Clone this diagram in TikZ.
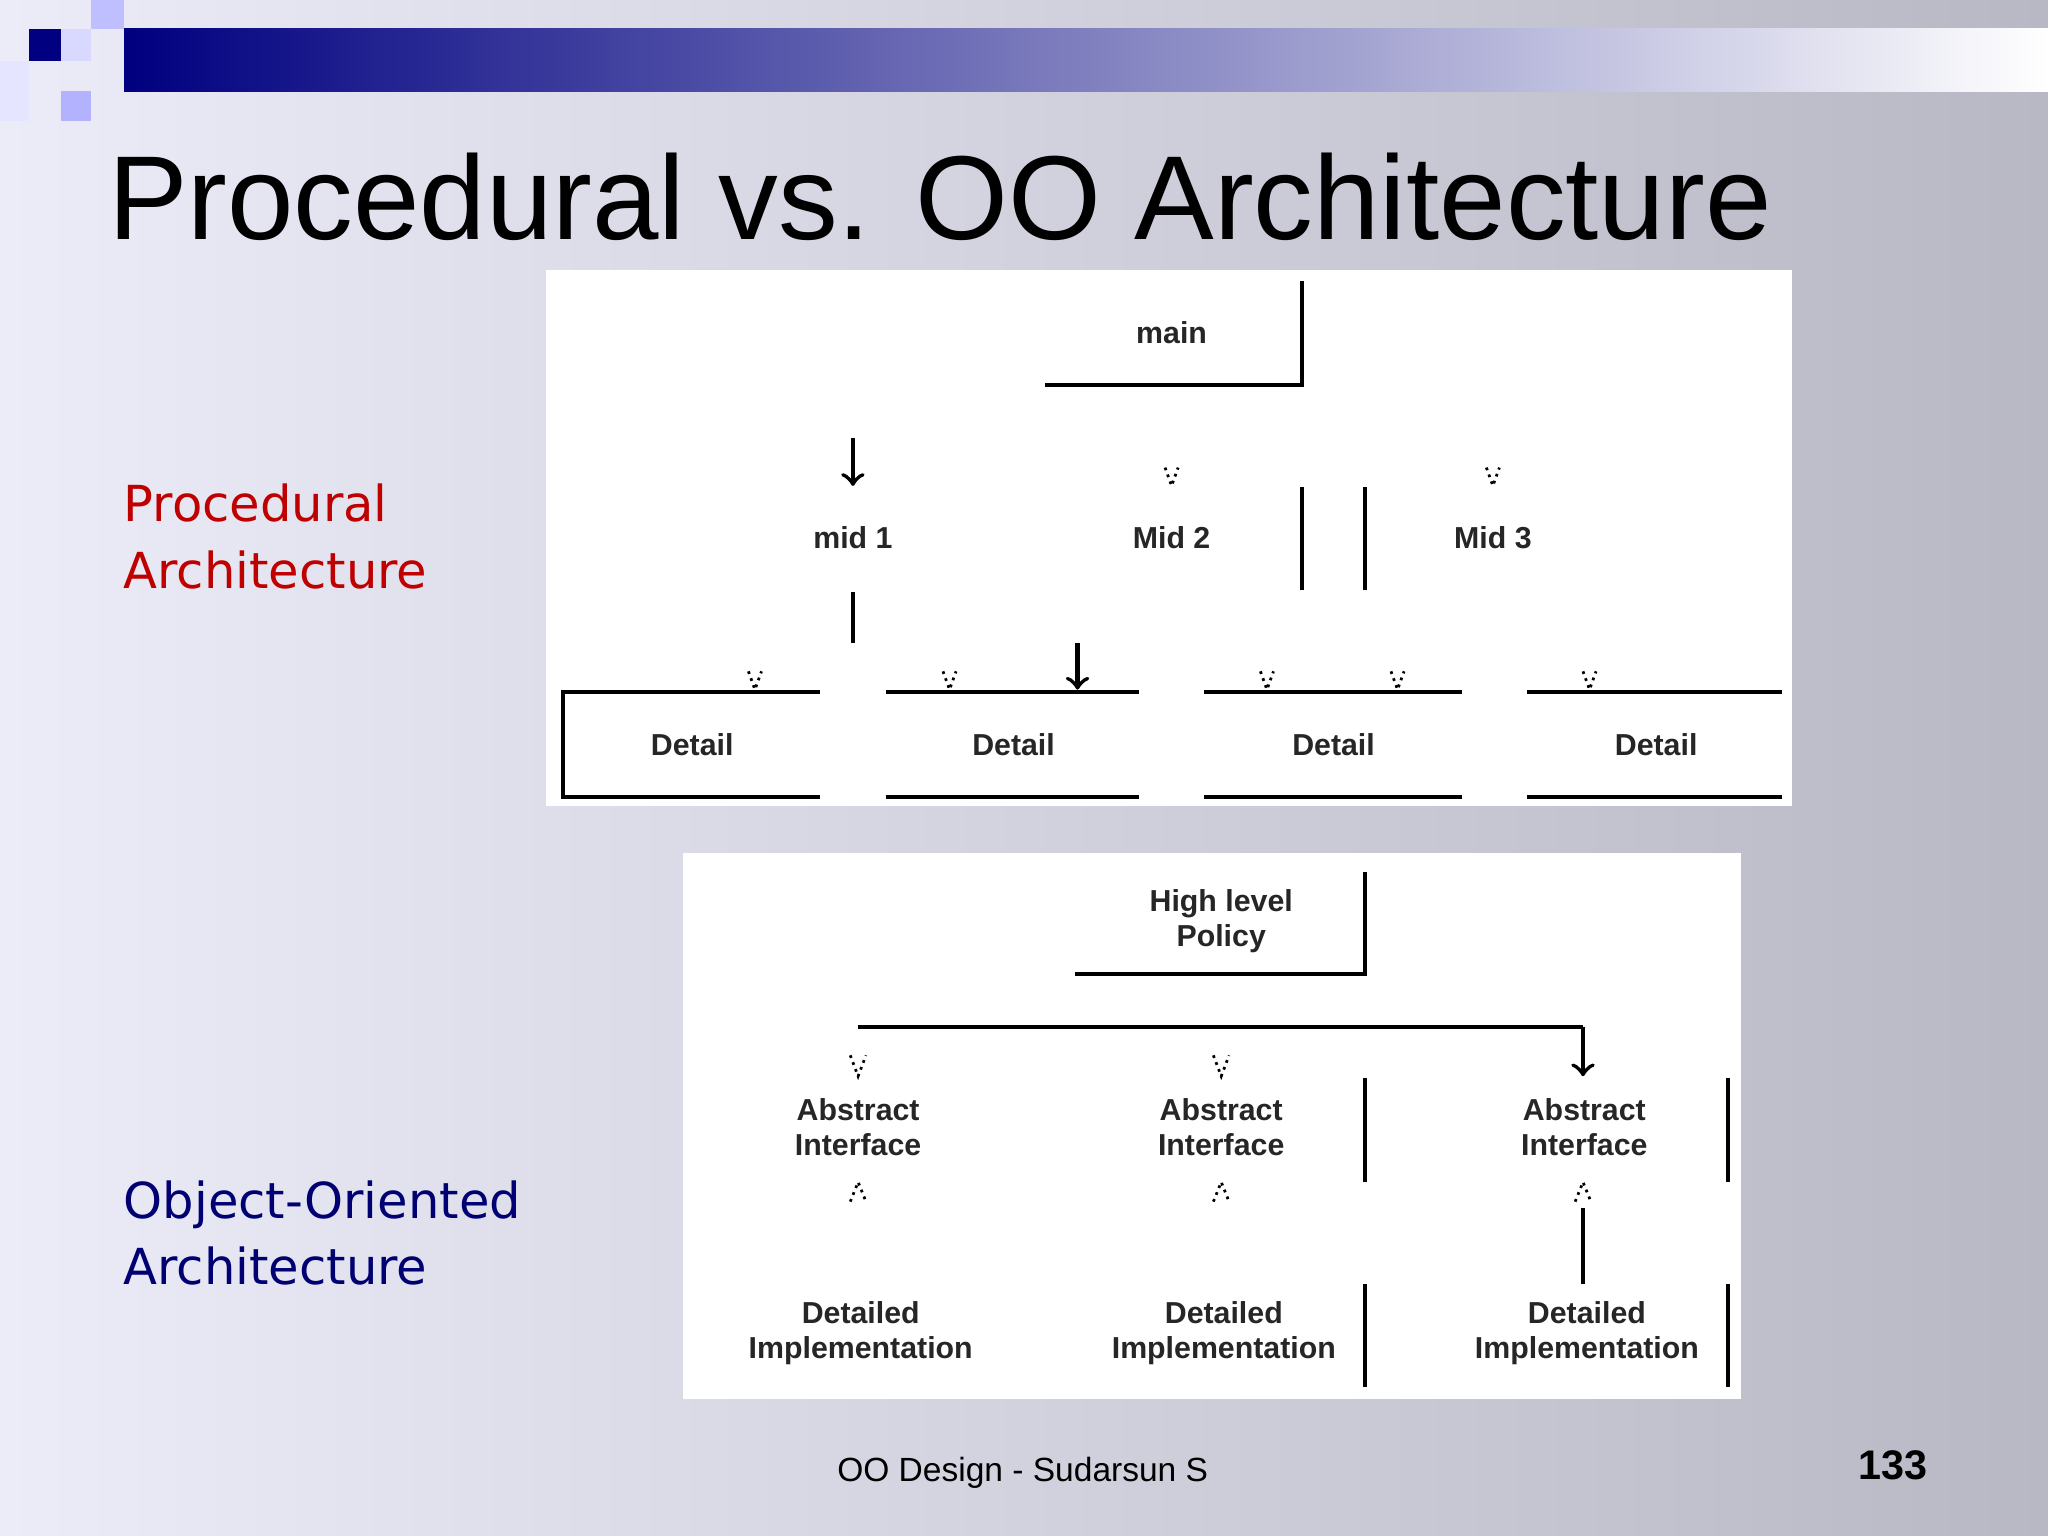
\documentclass[tikz,border=0pt]{standalone}
\usepackage{fontspec}
\setmainfont{Liberation Sans}
\newfontfamily\sidefont{DejaVu Sans}
\begin{document}
\begin{tikzpicture}[x=0.01cm,y=-0.01cm,
  ln/.style={line width=0.9pt,black},
  dg/.style={font=\bfseries\fontsize{6.6}{7.6}\selectfont,align=center,text=black!85},
  vm/.style={densely dotted,line width=0.6pt},
  side/.style={font=\sidefont\fontsize{10.8}{14.5}\selectfont,align=left,anchor=north west,inner sep=0}]
\useasboundingbox (0,0) rectangle (1568,1176);
\shade[left color={rgb,255:red,236;green,236;blue,248}, right color={rgb,255:red,184;green,184;blue,196}] (0,0) rectangle (1568,1176);
\shade[left color=blue!50!black, right color=white] (95,22) rectangle (1568,70);
\fill[blue!50!black] (22,22) rectangle (47,47);
\fill[blue!25!white] (70,0) rectangle (95,22);
\fill[blue!15!white] (47,22) rectangle (70,47);
\fill[blue!30!white] (47,70) rectangle (70,93);
\fill[blue!10!white] (0,47) rectangle (22,93);
\node[anchor=base west,font=\fontsize{26}{30}\selectfont,inner sep=0] (title) at (82,183) {Procedural vs. OO Architecture};
\node[side,text=red!75!black] (pa) at (94,370) {Procedural\\Architecture};
\node[side,text=blue!45!black] (oa) at (94,903) {Object-Oriented\\Architecture};
\node[font=\fontsize{7.3}{9}\selectfont] (foot) at (783,1128) {OO Design - Sudarsun S};
\node[font=\bfseries\fontsize{9}{10}\selectfont] (pg) at (1449,1122) {133};
% panel 1
\fill[white] (418,207) rectangle (1372,617);
\node[dg] (main) at (897,255) {main};
\draw[ln] (800,295) -- (997,295) -- (997,215);
\node[dg] (m1) at (653,412) {mid 1};
\node[dg] (m2) at (897,412) {Mid 2};
\node[dg] (m3) at (1143,412) {Mid 3};
\draw[ln,->] (653,335) -- (653,372);
\draw[ln] (653,453) -- (653,492);
\draw[ln] (997,373) -- (997,452) (1045,373) -- (1045,452);
\foreach \x in {897,1143} \draw[vm] (\x-5,358) -- (\x,372) -- (\x+5,358);
\foreach \x/\n in {530/d1,776/d2,1021/d3,1268/d4} \node[dg] (\n) at (\x,570) {Detail};
\draw[ln] (628,530) -- (431,530) -- (431,610) -- (628,610);
\foreach \a/\b in {678/872,922/1119,1169/1364} \draw[ln] (\a,530) -- (\b,530) (\a,610) -- (\b,610);
\foreach \x in {578,727,970,1070,1217} \draw[vm] (\x-5,514) -- (\x,528) -- (\x+5,514);
\draw[ln,->] (825,492) -- (825,528);
% panel 2
\fill[white] (523,653) rectangle (1333,1071);
\node[dg] (hp) at (935,705) {High level\\Policy};
\draw[ln] (823,746) -- (1045,746) -- (1045,668);
\draw[ln] (657,786) -- (1212,786);
\draw[ln,->] (1212,786) -- (1212,824);
\foreach \x in {657,935} \draw[vm] (\x-6,808) -- (\x,824) -- (\x+6,808);
\foreach \x/\n in {657/a1,935/a2,1213/a3} \node[dg] (\n) at (\x,863) {Abstract\\Interface};
\draw[ln] (1045,825) -- (1045,905) (1323,825) -- (1323,905);
\foreach \x in {657,935,1212} \draw[vm] (\x-6,920) -- (\x,905) -- (\x+6,920);
\draw[ln] (1212,925) -- (1212,983);
\foreach \x/\n in {659/i1,937/i2,1215/i3} \node[dg] (\n) at (\x,1021) {Detailed\\Implementation};
\draw[ln] (1045,983) -- (1045,1062) (1323,983) -- (1323,1062);
\end{tikzpicture}
\end{document}
